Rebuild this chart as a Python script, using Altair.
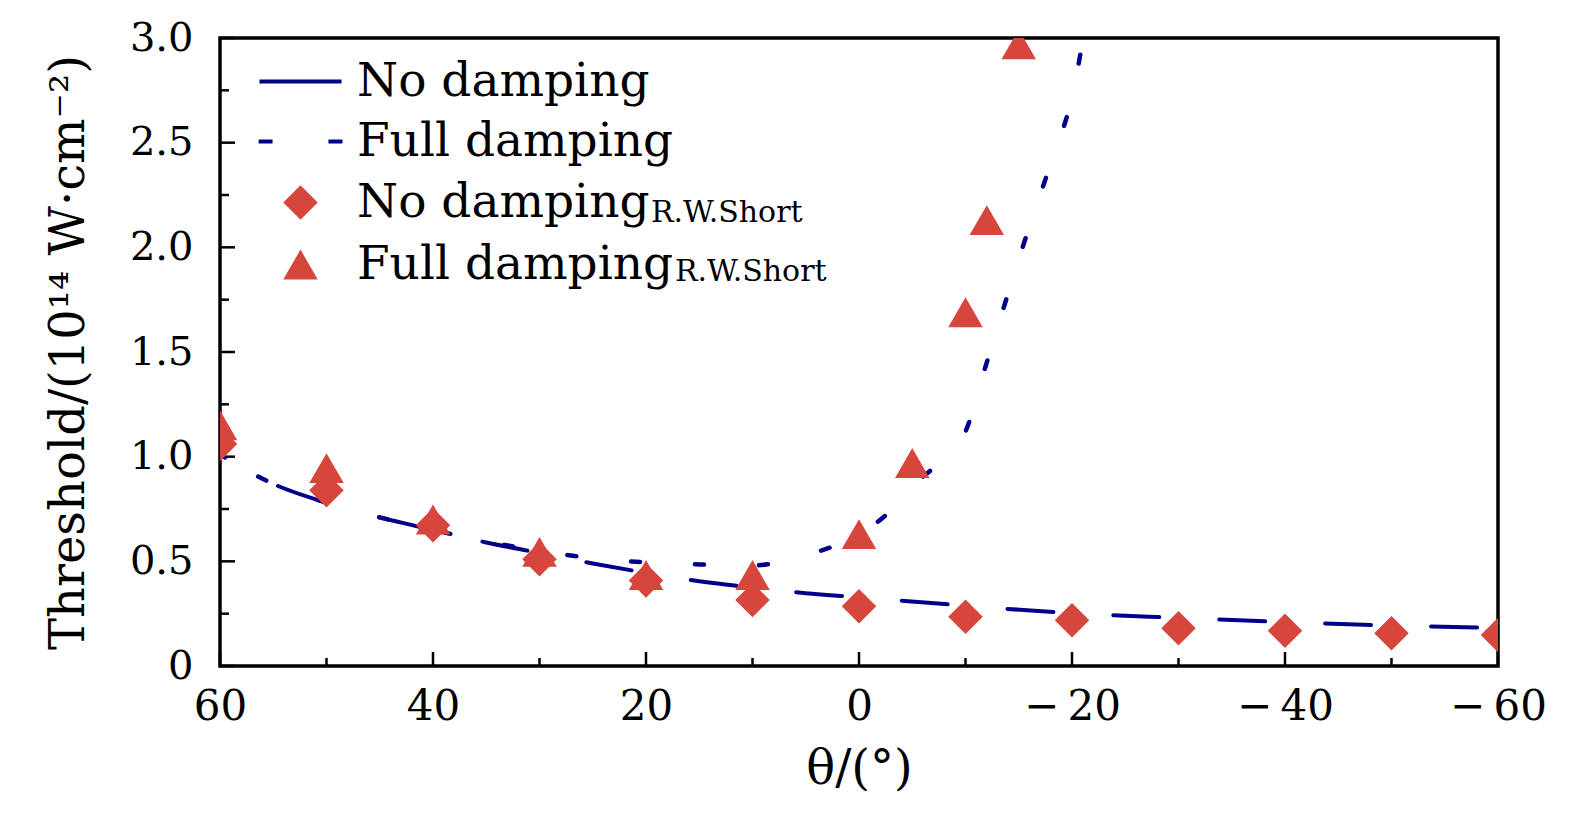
import altair as alt
import pandas as pd

# ---- data ----
theta_nd_curve = [60, 55, 50, 45, 40, 35, 30, 25, 20, 15, 10, 5, 0, -10, -20, -30, -40, -50, -60]
thr_nd_curve = [1.01, 0.87, 0.78, 0.71, 0.65, 0.59, 0.54, 0.49, 0.445, 0.405, 0.375, 0.348, 0.328,
                0.288, 0.252, 0.23, 0.21, 0.193, 0.182]

theta_fd_curve = [60, 55, 50, 45, 40, 35, 30, 25, 20, 15, 10, 7.5, 5, 2.5, 0, -2.5, -5, -7.5, -10,
                  -12, -14, -16, -18, -20, -22]
thr_fd_curve = [1.01, 0.87, 0.78, 0.71, 0.65, 0.595, 0.55, 0.515, 0.495, 0.485, 0.48, 0.495, 0.53,
                0.57, 0.63, 0.72, 0.86, 0.97, 1.12, 1.45, 1.78, 2.10, 2.40, 2.72, 3.3]

theta_nd_rws = [60, 50, 40, 30, 20, 10, 0, -10, -20, -30, -40, -50, -60]
thr_nd_rws = [1.06, 0.84, 0.672, 0.51, 0.408, 0.315, 0.285, 0.235, 0.218, 0.18, 0.168, 0.157, 0.148]

theta_fd_rws = [60, 50, 40, 30, 20, 10, 0, -5, -10, -12, -15]
thr_fd_rws = [1.15, 0.945, 0.70, 0.545, 0.435, 0.435, 0.63, 0.97, 1.69, 2.13, 2.97]

series_keys = ["No damping", "Full damping", "No damping R.W.Short", "Full damping R.W.Short"]

x_major = [60, 40, 20, 0, -20, -40, -60]
x_minor = [50, 30, 10, -10, -30, -50]
y_major = [0, 0.5, 1.0, 1.5, 2.0, 2.5, 3.0]
y_minor = [0.25, 0.75, 1.25, 1.75, 2.25, 2.75]

# ---- styles ----
NAVY = "#00008b"
RED = "#d7463c"
FONT = "DejaVu Serif"
W, H = 1278, 628

nd_df = pd.DataFrame({"theta": theta_nd_curve, "value": thr_nd_curve})
fd_df = pd.DataFrame({"theta": theta_fd_curve, "value": thr_fd_curve})
pts_df = pd.concat([
    pd.DataFrame({"theta": theta_nd_rws, "value": thr_nd_rws, "series": series_keys[2]}),
    pd.DataFrame({"theta": theta_fd_rws, "value": thr_fd_rws, "series": series_keys[3]}),
])

xscale = alt.Scale(domain=[-60, 60], reverse=True, nice=False, zero=False)
yscale = alt.Scale(domain=[0, 3], nice=False, zero=False)

xaxis = alt.Axis(
    values=x_major, title="θ/(°)", ticks=False, domain=False, grid=False,
    labelFont=FONT, labelFontSize=42, labelColor="black", labelPadding=20,
    labelExpr="datum.value < 0 ? '\u2212\u2009' + (-datum.value) : '' + datum.value",
    titleFont=FONT, titleFontSize=48, titleFontWeight="normal", titleColor="black",
    titlePadding=18, labelFlush=False, labelOverlap=False,
)
yaxis = alt.Axis(
    values=y_major, title="Threshold/(10¹⁴ W·cm⁻²)", ticks=False, domain=False, grid=False,
    labelFont=FONT, labelFontSize=40, labelColor="black", labelPadding=27,
    labelExpr="datum.value == 0 ? '0' : format(datum.value, '.1f')",
    titleFont=FONT, titleFontSize=48, titleFontWeight="normal", titleColor="black",
    titlePadding=36, labelFlush=False, labelOverlap=False,
)

X = alt.X("theta:Q", scale=xscale, axis=xaxis)
Y = alt.Y("value:Q", scale=yscale, axis=yaxis)

nd_line = alt.Chart(nd_df).mark_line(
    color=NAVY, strokeWidth=4, strokeDash=[46, 60], strokeDashOffset=40,
    strokeCap="round", interpolate="monotone", clip=True
).encode(x=X, y=Y)

fd_line = alt.Chart(fd_df).mark_line(
    color=NAVY, strokeWidth=4.5, strokeDash=[9, 55], strokeDashOffset=20,
    strokeCap="round", interpolate="monotone", clip=True
).encode(x=X, y=Y)

legend = alt.Legend(
    title=None, orient="none", legendX=57, legendY=20, padding=0,
    labelFont=FONT, labelFontSize=47, labelColor="black", labelLimit=0,
    labelOffset=33, rowPadding=12, symbolSize=1190, symbolStrokeWidth=4,
    symbolOpacity=1,
    labelExpr="indexof(datum.value, 'No') == 0 ? 'No damping' : 'Full damping'",
)
shape_range = ["M-2.38,0H2.38", "M-2.43,0H-1.62M1.62,0H2.43", "diamond", "triangle-up"]

points = alt.Chart(pts_df).mark_point(
    filled=True, size=1190, opacity=1, strokeWidth=4, clip=True
).encode(
    x=X, y=Y,
    shape=alt.Shape("series:N", scale=alt.Scale(domain=series_keys, range=shape_range), legend=legend),
    fill=alt.Fill("series:N", scale=alt.Scale(domain=series_keys,
                  range=["transparent", "transparent", RED, RED]), legend=legend),
    stroke=alt.Stroke("series:N", scale=alt.Scale(domain=series_keys,
                      range=[NAVY, NAVY, "transparent", "transparent"]), legend=legend),
)

# inward ticks
xt_major = alt.Chart(pd.DataFrame({"theta": x_major})).mark_rule(color="black", strokeWidth=2.5).encode(
    x=X, y=alt.value(H), y2=alt.value(H - 14))
xt_minor = alt.Chart(pd.DataFrame({"theta": x_minor})).mark_rule(color="black", strokeWidth=2.5).encode(
    x=X, y=alt.value(H), y2=alt.value(H - 8))
yt_major = alt.Chart(pd.DataFrame({"value": y_major})).mark_rule(color="black", strokeWidth=2.5).encode(
    y=Y, x=alt.value(0), x2=alt.value(15))
yt_minor = alt.Chart(pd.DataFrame({"value": y_minor})).mark_rule(color="black", strokeWidth=2.5).encode(
    y=Y, x=alt.value(0), x2=alt.value(9))

# subscripts of the legend labels
sub_df = pd.DataFrame({"label": ["R.W.Short"]})
sub1 = alt.Chart(sub_df).mark_text(font=FONT, fontSize=30, align="left", baseline="alphabetic",
                                   color="black").encode(
    text="label:N", x=alt.value(431), y=alt.value(184))
sub2 = alt.Chart(sub_df).mark_text(font=FONT, fontSize=30, align="left", baseline="alphabetic",
                                   color="black").encode(
    text="label:N", x=alt.value(455), y=alt.value(243))

chart = alt.layer(
    xt_major, xt_minor, yt_major, yt_minor, nd_line, fd_line, points, sub1, sub2
).properties(
    width=W, height=H,
    autosize=alt.AutoSizeParams(type="none"),
    padding={"left": 212, "top": 30, "right": 56, "bottom": 136},
    background="white",
).configure_view(stroke="black", strokeWidth=3.5)

chart.save("out.html", embed_options={"renderer": "svg", "actions": False})
